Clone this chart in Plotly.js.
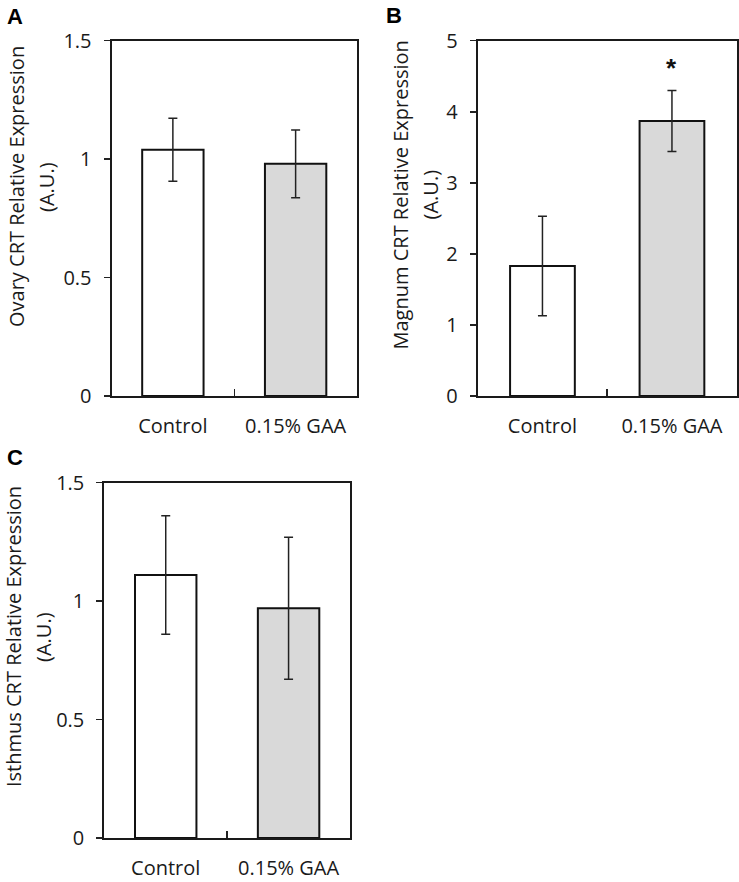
<!DOCTYPE html>
<html>
<head>
<meta charset="utf-8">
<script src="https://cdn.plot.ly/plotly-3.0.1.min.js"></script>
<style>html,body{margin:0;padding:0;background:#fff;}#chart{width:739px;height:882px;}</style>
</head>
<body>
<div id="chart"></div>
<script>
// ---- data ----
const categories = ['Control', '0.15% GAA'];
const ovaryMean = [1.04, 0.98];
const ovaryErr = [0.133, 0.143];
const magnumMean = [1.83, 3.87];
const magnumErr = [0.70, 0.43];
const isthmusMean = [1.11, 0.97];
const isthmusErr = [0.25, 0.30];
const barColors = ['#ffffff', '#d9d9d9'];
const ovaryTitle = ['Ovary CRT Relative Expression', '(A.U.)'];
const magnumTitle = ['Magnum CRT Relative Expression', '(A.U.)'];
const isthmusTitle = ['Isthmus CRT Relative Expression', '(A.U.)'];
const panelLetters = ['A', 'B', 'C'];
const sigMark = '*';

// ---- style ----
const W = 739, H = 882;
const FONT = 'Open Sans, sans-serif';
const TXT = '#1a1a1a';
const FS = 20;

function bar(y, err, xa, ya) {
  return {
    type: 'bar', x: categories, y: y, xaxis: xa, yaxis: ya,
    marker: {color: barColors, line: {color: '#111', width: 2}},
    error_y: {type: 'data', array: err, visible: true, color: '#222', thickness: 1.5, width: 4.5},
    hoverinfo: 'skip'
  };
}

function xAx(l, r) {
  return {
    domain: [l / W, r / W], type: 'category', tickson: 'boundaries',
    ticks: 'inside', ticklen: 7, tickwidth: 1.5, tickcolor: '#222',
    showline: true, mirror: true, linecolor: '#1a1a1a', linewidth: 2,
    showgrid: false, zeroline: false, fixedrange: true,
    tickfont: {family: FONT, size: FS, color: TXT}, ticklabelstandoff: 11
  };
}
function yAx(t, b, max, dtick, anchor) {
  return {
    domain: [1 - b / H, 1 - t / H], range: [0, max], dtick: dtick, tick0: 0,
    ticks: 'outside', ticklen: 6, tickwidth: 1.5, tickcolor: '#222',
    showline: true, mirror: true, linecolor: '#1a1a1a', linewidth: 2,
    showgrid: false, zeroline: false, fixedrange: true, anchor: anchor,
    tickfont: {family: FONT, size: FS, color: TXT}, ticklabelstandoff: 8
  };
}

const data = [
  bar(ovaryMean, ovaryErr, 'x', 'y'),
  bar(magnumMean, magnumErr, 'x2', 'y2'),
  bar(isthmusMean, isthmusErr, 'x3', 'y3')
];

function titleAnn(text, xpx, ypx) {
  return {text: text, xref: 'paper', yref: 'paper', x: xpx / W, y: 1 - ypx / H,
    xanchor: 'center', yanchor: 'middle', textangle: -90, showarrow: false,
    font: {family: FONT, size: FS, color: TXT}};
}
function letterAnn(text, xpx, ypx) {
  return {text: '<b>' + text + '</b>', xref: 'paper', yref: 'paper', x: xpx / W, y: 1 - ypx / H,
    xanchor: 'center', yanchor: 'middle', showarrow: false,
    font: {family: 'Liberation Sans, Arial, sans-serif', size: 22, color: '#000'}};
}

const annotations = [
  titleAnn(ovaryTitle[0], 17, 187), titleAnn(ovaryTitle[1], 47, 187),
  titleAnn(magnumTitle[0], 399.5, 195), titleAnn(magnumTitle[1], 429.5, 195),
  titleAnn(isthmusTitle[0], 13, 637), titleAnn(isthmusTitle[1], 43, 637),
  letterAnn(panelLetters[0], 15, 17), letterAnn(panelLetters[1], 394, 15), letterAnn(panelLetters[2], 15, 458),
  {text: '<b>' + sigMark + '</b>', xref: 'x2', yref: 'y2', x: categories[1],
   y: magnumMean[1] + magnumErr[1], yshift: 22, xanchor: 'center', yanchor: 'middle',
   showarrow: false, font: {family: 'Liberation Sans, Arial, sans-serif', size: 26, color: '#111'}}
];

const layout = {
  width: W, height: H, margin: {l: 0, r: 0, t: 0, b: 0},
  paper_bgcolor: '#fff', plot_bgcolor: '#fff', showlegend: false, bargap: 0.5,
  xaxis: xAx(111.5, 357), yaxis: yAx(40.7, 396, 1.5, 0.5, 'x'),
  xaxis2: xAx(477.7, 736.7), yaxis2: yAx(40.7, 396, 5, 1, 'x2'),
  xaxis3: xAx(104.3, 350), yaxis3: yAx(482.7, 838, 1.5, 0.5, 'x3'),
  annotations: annotations
};
layout.xaxis.anchor = 'y'; layout.xaxis2.anchor = 'y2'; layout.xaxis3.anchor = 'y3';

Plotly.newPlot('chart', data, layout, {staticPlot: true, displayModeBar: false});
</script>
</body>
</html>
